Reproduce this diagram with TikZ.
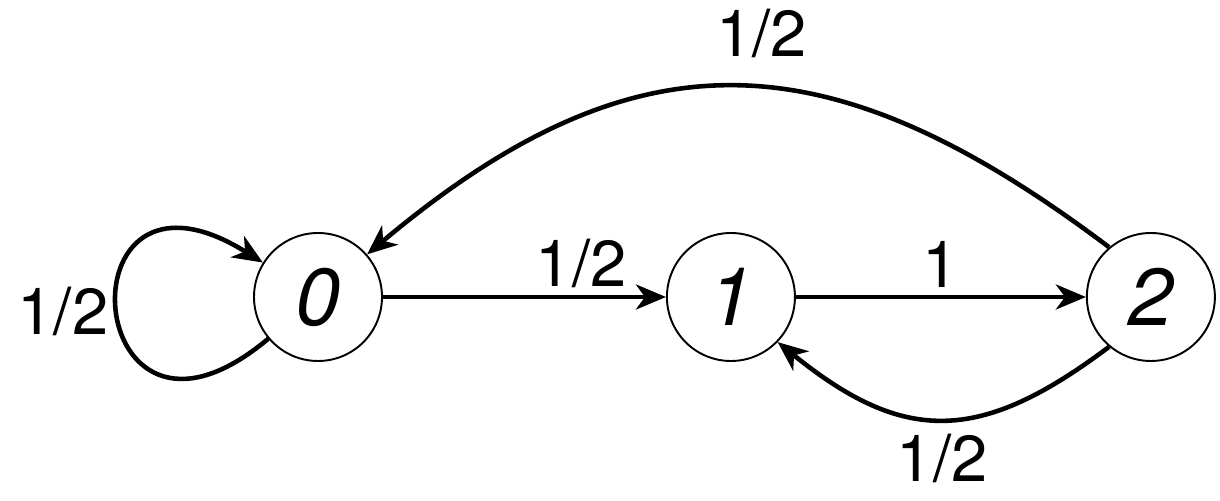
\documentclass[tikz,border=0pt]{standalone}
\usepackage{fontspec}
\setmainfont{TeX Gyre Heros}
\usetikzlibrary{arrows.meta, positioning}

\begin{document}
\begin{tikzpicture}[
    circ/.style={draw, circle, line width=1.1pt, minimum size=2.56cm, inner sep=0pt, font=\fontsize{46}{54}\selectfont\itshape},
    lbl/.style={font=\fontsize{37}{44}\selectfont, inner sep=4pt},
    arr/.style={-{Stealth[length=6mm, width=5mm, inset=1.8mm]}, line width=2.6pt}
  ]
  \useasboundingbox (0,0) rectangle (24.4,10.02);
  % States
  \node[circ] (s0) at (6.36,4.08) {0};
  \node[circ, right=5.66cm of s0] (s1) {1};
  \node[circ, right=5.8cm of s1] (s2) {2};
  % Transitions
  \draw[arr] (s0) -- node[lbl, above, pos=0.7] {1/2} (s1);
  \draw[arr] (s1) -- node[lbl, above] {1} (s2);
  \draw[arr] (s0) to[out=220, in=148, looseness=8.2] node[lbl, left] {1/2} (s0);
  \draw[arr] (s2.130) to[out=143, in=40, looseness=1.21] node[lbl, above=12pt, pos=0.46] {1/2} (s0.41);
  \draw[arr] (s2.230) to[out=217, in=321, looseness=1.25] node[lbl, below=5pt, inner sep=2pt] {1/2} (s1.316);
\end{tikzpicture}
\end{document}
